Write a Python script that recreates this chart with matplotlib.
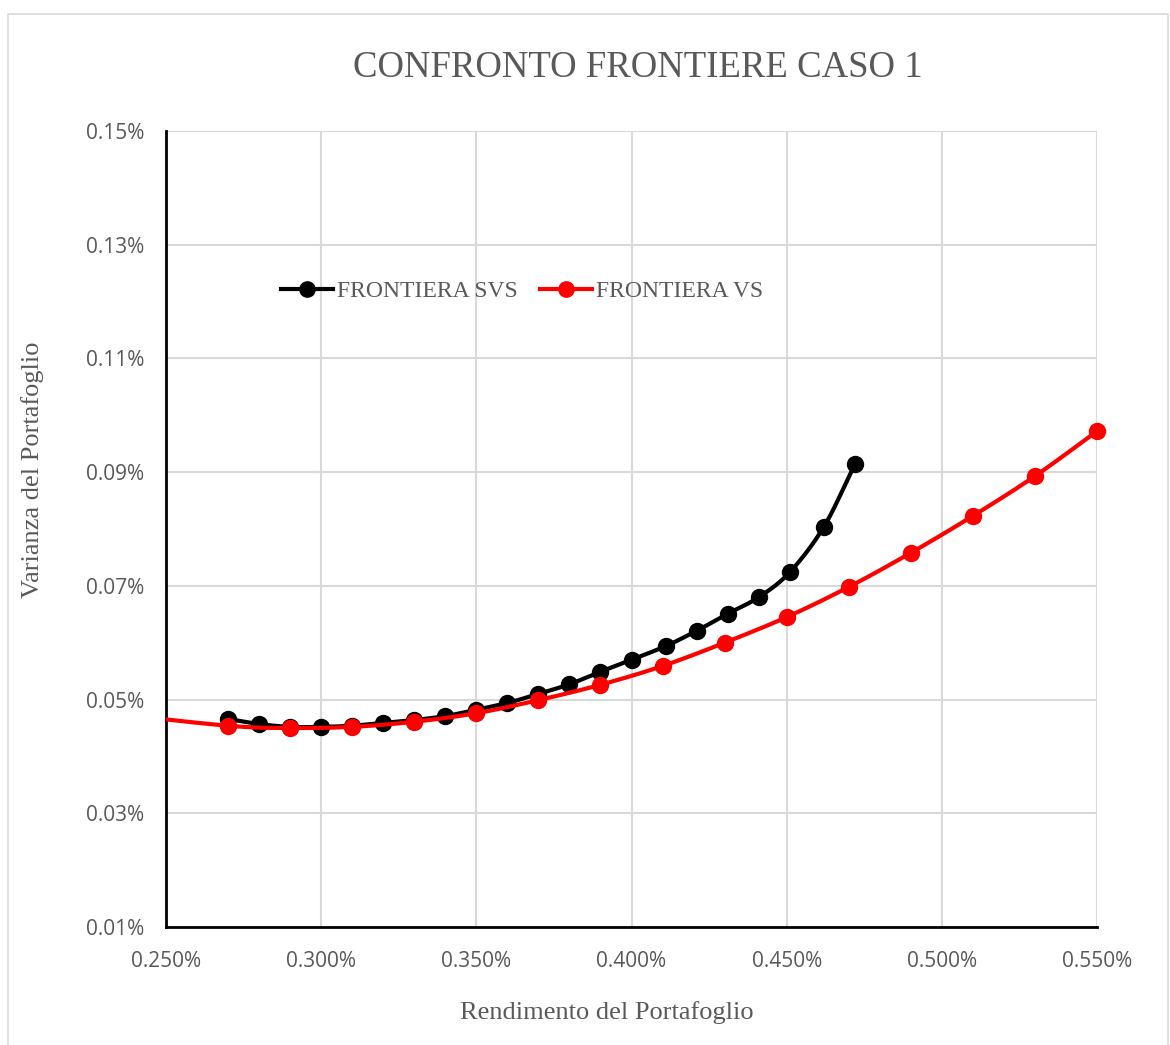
import numpy as np
import matplotlib
matplotlib.use("Agg")
import matplotlib.pyplot as plt
from matplotlib.patches import Rectangle

# values in percent
svs_x = [0.270, 0.280, 0.290, 0.300, 0.310, 0.320, 0.330, 0.340, 0.350, 0.360, 0.370,
         0.380, 0.390, 0.400, 0.411, 0.421, 0.431, 0.441, 0.451, 0.462, 0.472]
svs_y = [0.0466, 0.0457, 0.0452, 0.0452, 0.0454, 0.0459, 0.0464, 0.0471, 0.0482, 0.0494, 0.0510,
         0.0527, 0.0549, 0.0570, 0.0594, 0.0621, 0.0651, 0.0680, 0.0724, 0.0804, 0.0914]

vs_x = [0.230, 0.270, 0.290, 0.310, 0.330, 0.350, 0.370, 0.390, 0.410, 0.430, 0.450,
        0.470, 0.490, 0.510, 0.530, 0.550]
vs_y = [0.0477, 0.0454, 0.0450, 0.0452, 0.0461, 0.0476, 0.0499, 0.0526, 0.0559, 0.0600,
        0.0645, 0.0698, 0.0758, 0.0823, 0.0893, 0.0972]

x_ticks = [0.25, 0.30, 0.35, 0.40, 0.45, 0.50, 0.55]
y_ticks = [0.01, 0.03, 0.05, 0.07, 0.09, 0.11, 0.13, 0.15]


def smooth(x, y, n=20):
    # Catmull-Rom curve through the points, like Excel's smoothed line
    p = np.column_stack([x, y]).astype(float)
    p = np.vstack([2 * p[0] - p[1], p, 2 * p[-1] - p[-2]])
    out = []
    t = np.linspace(0, 1, n, endpoint=False)[:, None]
    for i in range(1, len(p) - 2):
        p0, p1, p2, p3 = p[i - 1], p[i], p[i + 1], p[i + 2]
        seg = 0.5 * ((2 * p1) + (-p0 + p2) * t + (2 * p0 - 5 * p1 + 4 * p2 - p3) * t ** 2
                     + (-p0 + 3 * p1 - 3 * p2 + p3) * t ** 3)
        out.append(seg)
    out.append(p[-2][None, :])
    out = np.vstack(out)
    return out[:, 0], out[:, 1]


gray = "#595959"
fig = plt.figure(figsize=(11.7, 10.45), dpi=100)
fig.patches.append(Rectangle((8 / 1170, -0.01), 1160 / 1170, 1 - 14 / 1045 + 0.01,
                             transform=fig.transFigure, fill=False, edgecolor="#d9d9d9", lw=1.2))
ax = fig.add_axes([166 / 1170, 1 - 927 / 1045, (1097 - 166) / 1170, (927 - 131) / 1045])

sx, sy = smooth(svs_x, svs_y)
ax.plot(sx, sy, color="black", lw=3, zorder=3)
ax.plot(svs_x, svs_y, "o", color="black", ms=11.5, zorder=3)
ax.plot([], [], "-o", color="black", lw=3, ms=11, label="FRONTIERA SVS")

rx, ry = smooth(vs_x, vs_y)
ax.plot(rx, ry, color="red", lw=3, zorder=4)
vis = [i for i, v in enumerate(vs_x) if v >= 0.25]
ax.plot([vs_x[i] for i in vis], [vs_y[i] for i in vis], "o", color="red", ms=11.5,
        zorder=4, clip_on=False)
ax.plot([], [], "-o", color="red", lw=3, ms=11, label="FRONTIERA VS")

ax.set_xlim(0.25, 0.55)
ax.set_ylim(0.01, 0.15)
ax.set_xticks(x_ticks)
ax.set_yticks(y_ticks)
ax.set_xticklabels([f"{v:.3f}%" for v in x_ticks])
ax.set_yticklabels([f"{v:.2f}%" for v in y_ticks])
ax.tick_params(length=0, labelsize=15, labelcolor=gray)
ax.tick_params(axis="y", pad=15.5)
ax.tick_params(axis="x", pad=17)
for lab in ax.get_xticklabels() + ax.get_yticklabels():
    lab.set_family("Open Sans")
ax.grid(True, color="#d9d9d9", lw=1.5)
ax.set_axisbelow(True)
for s in ["top", "right"]:
    ax.spines[s].set_visible(False)
ax.spines["left"].set_linewidth(2)
ax.spines["bottom"].set_linewidth(2)

ax.set_xlabel("Rendimento del Portafoglio", family="Liberation Serif", fontsize=19,
              color=gray, va="center")
ax.xaxis.set_label_coords((607 - 166) / 931, -(1013 - 927) / 796)
ax.set_ylabel("Varianza del Portafoglio", family="Liberation Serif", fontsize=19,
              color=gray, va="center")
ax.yaxis.set_label_coords(-(166 - 33) / 931, (927 - 470) / 796)
fig.text(0.545, 1 - 68 / 1045, "CONFRONTO FRONTIERE CASO 1", family="Liberation Serif",
         fontsize=26.5, color=gray, ha="center", va="center")

ax.legend(loc="center", bbox_to_anchor=(522 / 1170, 1 - 291 / 1045), bbox_transform=fig.transFigure,
          ncol=2, frameon=False, prop={"family": "Liberation Serif", "size": 17},
          labelcolor=gray, handlelength=2.2, handletextpad=0.15, columnspacing=0.95)

fig.savefig("out.png", dpi=100)
